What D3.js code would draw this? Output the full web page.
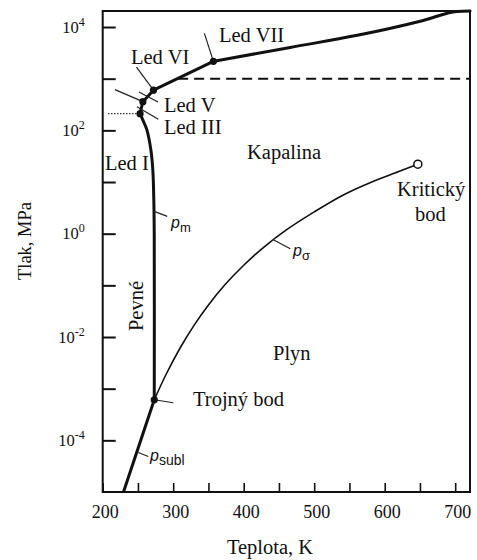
<!DOCTYPE html>
<html>
<head>
<meta charset="utf-8">
<script src="https://cdn.jsdelivr.net/npm/d3@7"></script>
<style>
body { margin: 0; background: #fff; }
svg { display: block; }
</style>
</head>
<body>
<svg width="477" height="560"></svg>
<script>
// teplota [K], tlak [MPa]
const meltT = [273.16, 273.1, 272.5, 271.1, 268.3, 262.6, 257.0, 253.0, 257.0, 272.0, 357.0, 466.0, 561.0, 654.7, 702.6, 721.0];
const meltP = [0.00061, 1.0, 4.5, 17, 42, 103, 158, 210, 359, 600, 2163, 4030, 6900, 13400, 20000, 20400];

const sublT = [229.5, 273.16];
const sublP = [0.00001, 0.00061];

const vapT = [273.16, 290, 310, 330, 350, 373, 400, 430, 460, 500, 540, 580, 620, 647];
const vapP = [0.00061, 0.0019, 0.0062, 0.0172, 0.0417, 0.1013, 0.245, 0.57, 1.17, 2.64, 5.5, 9.8, 15.9, 22.1];

const pointNames = ["Trojný bod", "Led III", "Led V", "Led VI", "Led VII"];
const pointT = [273.16, 253.0, 257.0, 272.0, 357.0];
const pointP = [0.00061, 210, 359, 600, 2163];

const critT = 647, critP = 22.1;
const dashP = 1000;

const xTicks = [200, 250, 300, 350, 400, 450, 500, 550, 600, 650, 700];
const xLabels = [200, 300, 400, 500, 600, 700];
const yTicks = [1e-4, 1e-3, 1e-2, 1e-1, 1, 10, 100, 1000, 1e4];
const yLabelExp = [-4, -2, 0, 2, 4];

const SERIF = "'Liberation Serif', 'Times New Roman', serif";
const SANS = "'Liberation Sans', Arial, sans-serif";

const svg = d3.select("svg");

var x = d3.scaleLinear().domain([200, 721]).range([102.7, 470]);
var y = d3.scaleLog().domain([1e-5, Math.pow(10, 4.31)]).range([492, 11]);

const line = d3.line().x(d => x(d[0])).y(d => y(d[1]));

// osy
const xAxis = svg.append("g")
	.attr("transform", "translate(0,492)")
	.call(d3.axisBottom(x).tickValues(xTicks).tickSize(-9).tickPadding(13)
		.tickFormat(d => xLabels.includes(d) ? d : ""));
xAxis.select(".domain").remove();
xAxis.selectAll("line").attr("stroke", "#111").attr("stroke-width", 1.6);
xAxis.selectAll("text")
	.style("font-family", SERIF).style("font-size", "18px").attr("fill", "#111").attr("dx", 2);

const yAxis = svg.append("g")
	.attr("transform", "translate(102.7,0)")
	.call(d3.axisLeft(y).tickValues(yTicks).tickSize(-13).tickFormat(""));
yAxis.select(".domain").remove();
yAxis.selectAll("line").attr("stroke", "#111").attr("stroke-width", 2);
yAxis.selectAll(".tick")
	.filter(d => yLabelExp.includes(Math.round(Math.log10(d))))
	.append("text")
	.style("font-family", SERIF)
	.attr("fill", "#111")
	.attr("x", -18)
	.attr("y", 5)
	.attr("text-anchor", "end")
	.each(function(d) {
		const t = d3.select(this);
		t.append("tspan").style("font-size", "16.5px").text("10");
		t.append("tspan").style("font-size", "12px").attr("dy", -7).text(Math.round(Math.log10(d)));
	});

// rámeček
svg.append("rect")
	.attr("x", x(200)).attr("y", y.range()[1])
	.attr("width", x(721) - x(200)).attr("height", y(1e-5) - y.range()[1])
	.attr("fill", "none").attr("stroke", "#111").attr("stroke-width", 2);

// přerušované čáry
svg.append("line")
	.attr("x1", x(307)).attr("x2", x(721))
	.attr("y1", y(dashP)).attr("y2", y(dashP))
	.attr("stroke", "#111").attr("stroke-width", 2).attr("stroke-dasharray", "10,6");
svg.append("line")
	.attr("x1", x(207.5)).attr("x2", x(pointT[1]))
	.attr("y1", y(pointP[1])).attr("y2", y(pointP[1]))
	.attr("stroke", "#333").attr("stroke-width", 1.2).attr("stroke-dasharray", "1.5,1.5");

// křivky
svg.append("path")
	.datum(d3.zip(vapT, vapP))
	.attr("d", line.curve(d3.curveCatmullRom))
	.attr("fill", "none").attr("stroke", "#111").attr("stroke-width", 1.6);

// tání: led I (hladce), body III-V-VI-VII (rovně), nad VII (monotónně)
const melt = d3.zip(meltT, meltP);
const meltParts = [
	[melt.slice(0, 8), d3.curveCatmullRom],
	[melt.slice(7, 11), d3.curveLinear],
	[melt.slice(10), d3.curveMonotoneX]
];
meltParts.forEach(function(part) {
	svg.append("path")
		.datum(part[0])
		.attr("d", line.curve(part[1]))
		.attr("fill", "none").attr("stroke", "#111").attr("stroke-width", 3)
		.attr("stroke-linejoin", "round").attr("stroke-linecap", "round");
});

svg.append("path")
	.datum(d3.zip(sublT, sublP))
	.attr("d", line.curve(d3.curveLinear))
	.attr("fill", "none").attr("stroke", "#111").attr("stroke-width", 3);

// vodítka popisků (posun v px od bodu)
const leaders = [
	[0, 0, 19, 3], // trojný bod
	[0, 0, 0, 0], // led III
	[-28, -12, 0, 0], // led V
	[-17, -23, 0, 0], // led VI
	[-9, -28, 0, 0] // led VII
];
svg.selectAll(".leader")
	.data(d3.zip(pointT, pointP, leaders))
	.enter()
	.append("line")
	.attr("x1", d => x(d[0]) + d[2][0])
	.attr("y1", d => y(d[1]) + d[2][1])
	.attr("x2", d => x(d[0]) + d[2][2])
	.attr("y2", d => y(d[1]) + d[2][3])
	.attr("stroke", "#222").attr("stroke-width", 1.2);

// krátké čárky přes křivku mezi body
[[137, 106.7, 158.3, 119.3], [139, 92, 158, 102]].forEach(function(l) {
	svg.append("line")
		.attr("x1", l[0]).attr("y1", l[1]).attr("x2", l[2]).attr("y2", l[3])
		.attr("stroke", "#222").attr("stroke-width", 1.2);
});

// vodítka p_m, p_sigma, p_subl
svg.append("line")
	.attr("x1", x(273.1)).attr("y1", y(2.7)).attr("x2", x(273.1) + 13).attr("y2", y(2.7) + 5)
	.attr("stroke", "#222").attr("stroke-width", 1.2);
svg.append("line")
	.attr("x1", x(442)).attr("y1", y(0.76)).attr("x2", x(442) + 17).attr("y2", y(0.76) + 9)
	.attr("stroke", "#222").attr("stroke-width", 1.2);
svg.append("line")
	.attr("x1", x(250.5)).attr("y1", y(0.000058)).attr("x2", x(250.5) + 10).attr("y2", y(0.000058) + 4)
	.attr("stroke", "#222").attr("stroke-width", 1.2);

// body
svg.selectAll(".pt")
	.data(d3.zip(pointT, pointP))
	.enter()
	.append("circle")
	.attr("cx", d => x(d[0]))
	.attr("cy", d => y(d[1]))
	.attr("r", 3.6)
	.attr("fill", "#111");
svg.append("circle")
	.attr("cx", x(critT)).attr("cy", y(critP)).attr("r", 4)
	.attr("fill", "#fff").attr("stroke", "#111").attr("stroke-width", 1.5);

// popisky
const labels = [
	["Led VII", 219, 42],
	["Led VI", 131, 64],
	["Led V", 164, 112],
	["Led III", 164, 134],
	["Led I", 105, 170],
	["Kapalina", 247, 159],
	["Kritický", 397, 196],
	["bod", 415, 221],
	["Plyn", 273, 360],
	["Trojný bod", 193, 406]
];
svg.selectAll(".lab")
	.data(labels)
	.enter()
	.append("text")
	.style("font-family", SERIF)
	.style("font-size", "20.5px")
	.attr("fill", "#111")
	.attr("x", d => d[1])
	.attr("y", d => d[2])
	.text(d => d[0]);

svg.append("text")
	.style("font-family", SERIF)
	.style("font-size", "20.5px")
	.attr("fill", "#111")
	.attr("text-anchor", "middle")
	.attr("transform", "translate(143,306) rotate(-90)")
	.text("Pevné");

// p_m, p_sigma, p_subl
function pLabel(px, py, sub, subSize) {
	const t = svg.append("text").style("font-family", SANS).attr("fill", "#111").attr("x", px).attr("y", py);
	t.append("tspan").style("font-size", "16px").style("font-style", "italic").text("p");
	t.append("tspan").style("font-size", subSize + "px").attr("dy", 4).text(sub);
}
pLabel(171, 228, "m", 13);
pLabel(293, 256, "σ", 13);
pLabel(150, 461, "subl", 14);

// názvy os
svg.append("text")
	.style("font-family", SERIF)
	.style("font-size", "18.5px")
	.attr("fill", "#111")
	.attr("text-anchor", "middle")
	.attr("transform", "translate(31,241) rotate(-90)")
	.text("Tlak, MPa");
svg.append("text")
	.style("font-family", SERIF)
	.style("font-size", "20.5px")
	.attr("fill", "#111")
	.attr("text-anchor", "middle")
	.attr("x", 270)
	.attr("y", 554)
	.text("Teplota, K");
</script>
</body>
</html>
